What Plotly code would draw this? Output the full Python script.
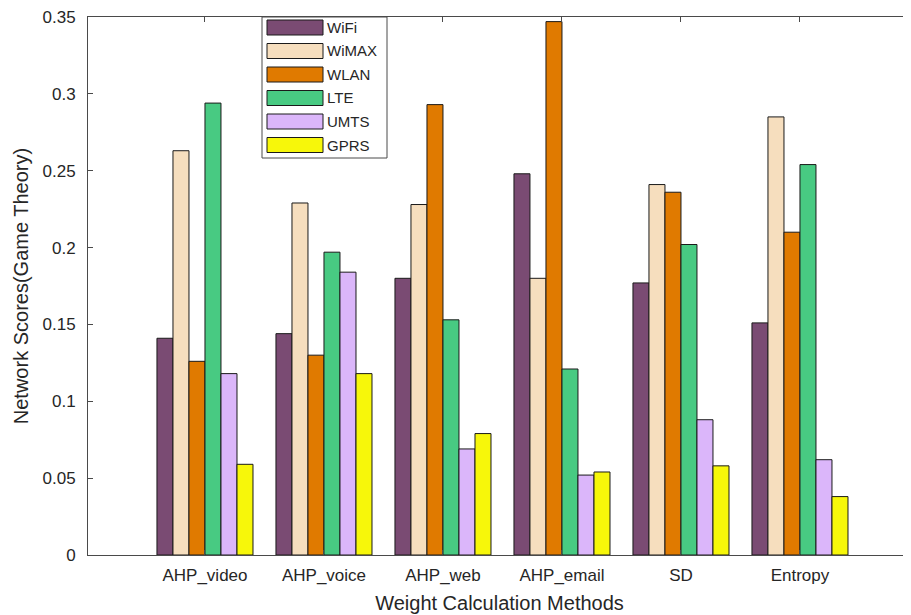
import plotly.graph_objects as go

categories = ["AHP_video", "AHP_voice", "AHP_web", "AHP_email", "SD", "Entropy"]
series_names = ["WiFi", "WiMAX", "WLAN", "LTE", "UMTS", "GPRS"]
wifi  = [0.141, 0.144, 0.180, 0.248, 0.177, 0.151]
wimax = [0.263, 0.229, 0.228, 0.180, 0.241, 0.285]
wlan  = [0.126, 0.130, 0.293, 0.347, 0.236, 0.210]
lte   = [0.294, 0.197, 0.153, 0.121, 0.202, 0.254]
umts  = [0.118, 0.184, 0.069, 0.052, 0.088, 0.062]
gprs  = [0.059, 0.118, 0.079, 0.054, 0.058, 0.038]
series_values = [wifi, wimax, wlan, lte, umts, gprs]
colors = ["#7A4B73", "#F6DEBE", "#E07A00", "#48CA82", "#DBB6FA", "#F7F70A"]
y_ticks = [0, 0.05, 0.1, 0.15, 0.2, 0.25, 0.3, 0.35]
y_tick_labels = ["0", "0.05", "0.1", "0.15", "0.2", "0.25", "0.3", "0.35"]

# page body has an 8px margin, so the figure is shrunk by that amount
OFF = 8
W, H = 911 - OFF, 615 - OFF
L, R, T, B = 88 - OFF, 0, 17 - OFF, 60
PW, PH = W - L - R, H - T - B

xpos = list(range(1, len(categories) + 1))
fig = go.Figure()
for name, vals, col in zip(series_names, series_values, colors):
    fig.add_trace(go.Bar(x=xpos, y=vals, name=name, marker=dict(color=col, line=dict(color="#1a1a1a", width=1)),
                         showlegend=False))

font_family = "Liberation Sans, Arial, sans-serif"
txt = "#262626"
axc = "#4a4a4a"

fig.update_layout(
    width=W, height=H, margin=dict(l=L, r=R, t=T, b=B),
    paper_bgcolor="white", plot_bgcolor="white",
    barmode="group", bargap=0.193, bargroupgap=0,
    font=dict(family=font_family, color=txt),
    xaxis=dict(range=[0.017, 6.933], tickvals=xpos, ticktext=categories, showgrid=False, zeroline=False,
               showline=True, linecolor=axc, linewidth=1, mirror="ticks", ticks="inside", ticklen=5,
               tickcolor=axc, tickfont=dict(size=17, color=txt), ticklabelstandoff=5,
               ticklabeloverflow="allow",
               title=dict(text="Weight Calculation Methods", font=dict(size=20, color=txt), standoff=11)),
    yaxis=dict(range=[0, 0.35], tickvals=y_ticks, ticktext=y_tick_labels, showgrid=False, zeroline=False,
               showline=True, linecolor=axc, linewidth=1, ticks="inside", ticklen=5, tickcolor=axc,
               tickfont=dict(size=17, color=txt), ticklabelstandoff=8, ticklabeloverflow="allow",
               title=dict(text="Network Scores(Game Theory)", font=dict(size=20, color=txt), standoff=8)),
    yaxis2=dict(range=[0, 0.35], overlaying="y", side="right", tickvals=y_ticks, showticklabels=False,
                ticks="inside", ticklen=4, tickcolor=axc, showgrid=False, zeroline=False, showline=False),
)

# invisible trace to activate yaxis2
fig.add_trace(go.Scatter(x=[xpos[0]], y=[0], yaxis="y2", mode="markers", marker=dict(opacity=0),
                         showlegend=False, hoverinfo="skip"))

def px(xp):
    return (xp - OFF - L) / PW

def py(yp):
    return (H - B - (yp - OFF)) / PH

# custom legend
shapes = [dict(type="rect", xref="paper", yref="paper", x0=px(262), x1=px(387), y0=py(158), y1=py(17),
               line=dict(color=axc, width=1), fillcolor="white", layer="above")]
annotations = []
for i, (name, col) in enumerate(zip(series_names, colors)):
    cy = 27.5 + i * 23.5
    shapes.append(dict(type="rect", xref="paper", yref="paper", x0=px(267), x1=px(323),
                       y0=py(cy + 7.5), y1=py(cy - 7.5), line=dict(color="#1a1a1a", width=1),
                       fillcolor=col, layer="above"))
    annotations.append(dict(xref="paper", yref="paper", x=px(325), y=py(cy), text=name, showarrow=False,
                            xanchor="left", yanchor="middle", font=dict(size=15, color=txt, family=font_family)))
fig.update_layout(shapes=shapes, annotations=annotations)

fig.write_html("out.html")
